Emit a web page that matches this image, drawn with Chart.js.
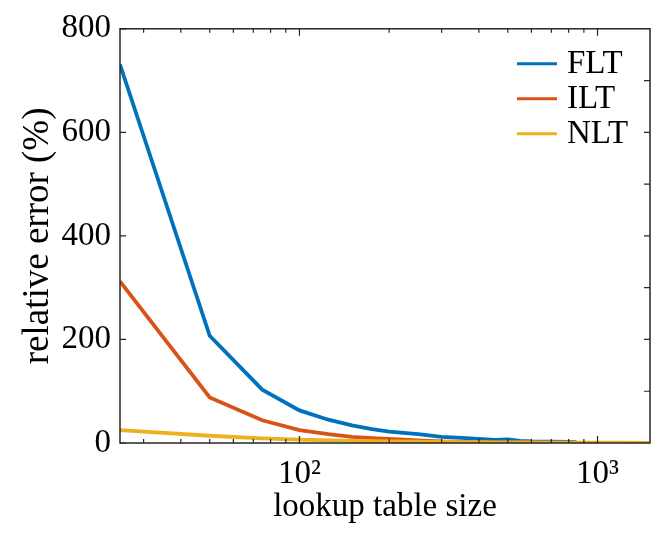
<!DOCTYPE html>
<html>
<head>
<meta charset="utf-8">
<title>relative error vs lookup table size</title>
<script src="https://cdn.jsdelivr.net/npm/chart.js@4.4.1/dist/chart.umd.min.js"></script>
<style>
  html, body { margin: 0; padding: 0; background: #fff; }
  #wrap { width: 665px; height: 543px; }
</style>
</head>
<body>
<div id="wrap"><canvas id="chart" width="665" height="543"></canvas></div>
<script>
// lookup table sizes (x) and relative error in % for each method
const tableSizes = [25, 50, 75, 100, 125, 150, 175, 200, 250, 300, 350, 400, 450, 500, 550, 600, 700, 800, 850, 900, 1000, 1200, 1500];
const fltError = [731, 207, 103, 63, 45, 34, 27, 22, 17, 12, 10, 8, 6, 7, 4, 3, 2.5, 2, 1.5, null, null, null, null];
const iltError = [312, 88, 44, 25, 17, 12, 9.5, 8, 5, 3, 2.2, 1.6, 1.3, 1.1, 0.9, 0.8, 0.6, 0.5, 0.4, 0.4, 0.3, 0.3, 0.2];
const nltError = [25, 14, 9, 6.5, 5, 4, 3.5, 3, 2.5, 2, 1.8, 1.5, 1.3, 1.2, 1.1, 1, 0.9, 0.8, 0.7, 0.7, 0.6, 0.5, 0.4];

// axis ticks
const xTicks = [30, 40, 50, 60, 70, 80, 90, 100, 200, 300, 400, 500, 600, 700, 800, 900, 1000];
const xTickLabels = { 100: '10²', 1000: '10³' };
const yRightTicks = [100, 200, 300, 400, 500, 600, 700];

const axisColor = '#262626';
const serif = '"Liberation Serif", "Times New Roman", serif';

function toPoints(values) {
    return tableSizes.map((x, i) => ({ x: x, y: values[i] }));
}

// MATLAB style box with inward tick marks
const boxPlugin = {
    id: 'boxTicks',
    afterDraw(chart) {
        const { ctx, chartArea: a, scales: { x, y } } = chart;
        ctx.save();
        ctx.strokeStyle = axisColor;
        ctx.lineWidth = 1.5;
        ctx.strokeRect(a.left, a.top, a.right - a.left, a.bottom - a.top);
        ctx.lineWidth = 1.2;
        ctx.beginPath();
        xTicks.forEach(v => {
            const px = x.getPixelForValue(v);
            const len = xTickLabels[v] ? 7 : 4;
            ctx.moveTo(px, a.bottom); ctx.lineTo(px, a.bottom - len);
            ctx.moveTo(px, a.top); ctx.lineTo(px, a.top + len);
        });
        y.ticks.forEach(t => {
            const py = y.getPixelForValue(t.value);
            ctx.moveTo(a.left, py); ctx.lineTo(a.left + 6, py);
        });
        yRightTicks.forEach(v => {
            const py = y.getPixelForValue(v);
            ctx.moveTo(a.right, py); ctx.lineTo(a.right - 6, py);
        });
        ctx.stroke();
        ctx.restore();
    }
};

// legend drawn inside the plot area, top right
const innerLegend = {
    id: 'innerLegend',
    afterDraw(chart) {
        const { ctx, chartArea: a } = chart;
        ctx.save();
        ctx.font = '33px ' + serif;
        ctx.textBaseline = 'middle';
        ctx.fillStyle = '#000';
        chart.data.datasets.forEach((ds, i) => {
            const yy = a.top + 35 + i * 35;
            const x0 = a.right - 133;
            ctx.strokeStyle = ds.borderColor;
            ctx.lineWidth = 3;
            ctx.beginPath();
            ctx.moveTo(x0, yy);
            ctx.lineTo(x0 + 40, yy);
            ctx.stroke();
            ctx.fillText(ds.label, x0 + 50, yy + 1);
        });
        ctx.restore();
    }
};

new Chart(document.getElementById('chart'), {
    type: 'line',
    data: {
        datasets: [
            { label: 'FLT', data: toPoints(fltError), borderColor: '#0072BD', order: 3 },
            { label: 'ILT', data: toPoints(iltError), borderColor: '#D95319', order: 2 },
            { label: 'NLT', data: toPoints(nltError), borderColor: '#EDB120', order: 1 }
        ]
    },
    options: {
        responsive: false,
        animation: false,
        layout: { padding: { top: 24, right: 15, left: 0, bottom: 0 } },
        elements: {
            line: { borderWidth: 3.8, tension: 0, fill: false },
            point: { radius: 0 }
        },
        plugins: {
            legend: { display: false },
            tooltip: { enabled: false }
        },
        scales: {
            x: {
                type: 'logarithmic',
                min: 25,
                max: 1500,
                grid: { display: false, drawTicks: false },
                border: { display: false },
                afterBuildTicks: scale => {
                    scale.ticks = xTicks.map(v => ({ value: v }));
                },
                afterFit: scale => { scale.height = 100; },
                ticks: {
                    autoSkip: false,
                    maxRotation: 0,
                    padding: 12,
                    color: '#000',
                    font: { family: serif, size: 33 },
                    callback: value => xTickLabels[value] || ''
                },
                title: {
                    display: true,
                    text: 'lookup table size',
                    color: '#000',
                    font: { family: serif, size: 33 },
                    padding: { top: 0, bottom: 16 }
                }
            },
            y: {
                min: 0,
                max: 800,
                grid: { display: false, drawTicks: false },
                border: { display: false },
                afterFit: scale => { scale.width = 120; },
                ticks: {
                    stepSize: 200,
                    padding: 9,
                    color: '#000',
                    font: { family: serif, size: 33 }
                },
                title: {
                    display: true,
                    text: 'relative error (%)',
                    color: '#000',
                    font: { family: serif, size: 37 },
                    padding: { top: 16, bottom: 0 }
                }
            }
        }
    },
    plugins: [boxPlugin, innerLegend]
});
</script>
</body>
</html>
